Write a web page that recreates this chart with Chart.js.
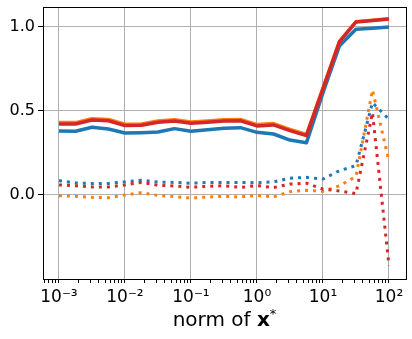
<!DOCTYPE html>
<html>
<head>
<meta charset="utf-8">
<script src="https://cdn.jsdelivr.net/npm/chart.js@4.4.0/dist/chart.umd.min.js"></script>
<style>
  html, body { margin: 0; padding: 0; background: #fff; }
  #wrap { position: relative; width: 412px; height: 339px; }
  #xtitle {
    position: absolute; left: 43px; width: 363px; top: 307px;
    text-align: center; font-family: "DejaVu Sans", sans-serif; font-size: 20px; color: #000;
  }
  #xtitle sup { font-size: 13px; vertical-align: 8px; line-height: 0; }
</style>
</head>
<body>
<div id="wrap">
  <canvas id="chart" width="412" height="339"></canvas>
  <div id="xtitle">norm of <b>x</b><sup>*</sup></div>
</div>
<script>
// x positions (norm of x*)
var xs = [0.001, 0.00178, 0.00316, 0.00562, 0.01, 0.0178, 0.0316, 0.0562, 0.1, 0.178, 0.316, 0.562,
          1, 1.78, 3.16, 5.62, 10, 17.8, 31.6, 56.2, 100];

// solid lines
var blueSolid   = [0.381, 0.379, 0.403, 0.393, 0.369, 0.371, 0.375, 0.395, 0.379, 0.388, 0.397, 0.401,
                   0.373, 0.363, 0.327, 0.311, 0.609, 0.889, 0.986, 0.993, 1.0];
var orangeSolid = [0.431, 0.431, 0.454, 0.450, 0.421, 0.423, 0.441, 0.448, 0.435, 0.441, 0.448, 0.450,
                   0.419, 0.425, 0.391, 0.360, 0.637, 0.915, 1.031, 1.040, 1.049];
var redSolid    = [0.423, 0.423, 0.446, 0.442, 0.413, 0.415, 0.433, 0.440, 0.427, 0.433, 0.440, 0.442,
                   0.411, 0.417, 0.383, 0.353, 0.633, 0.913, 1.030, 1.039, 1.048];

// dotted lines
var blueDotted   = [0.085, 0.072, 0.068, 0.069, 0.078, 0.088, 0.077, 0.075, 0.070, 0.075, 0.075, 0.075,
                    0.073, 0.078, 0.100, 0.105, 0.095, 0.145, 0.175, 0.550, 0.450];
var orangeDotted = [-0.004, -0.008, -0.014, -0.016, 0.000, 0.014, -0.003, -0.010, -0.018, -0.012, -0.008, -0.012,
                    -0.002, -0.012, 0.020, 0.028, 0.022, 0.055, 0.110, 0.625, 0.200];
var redDotted    = [0.060, 0.055, 0.048, 0.048, 0.060, 0.075, 0.058, 0.054, 0.046, 0.052, 0.055, 0.045,
                    0.056, 0.044, 0.065, 0.070, 0.035, 0.024, 0.008, 0.490, -0.420];

var xMajor = [0.001, 0.01, 0.1, 1, 10, 100];
var xLabels = ['10\u207B\u00B3', '10\u207B\u00B2', '10\u207B\u00B9', '10\u2070', '10\u00B9', '10\u00B2'];
var yTicks = [0, 0.5, 1.0];

function pts(ys) {
    return xs.map(function (x, i) { return { x: x, y: ys[i] }; });
}

function line(ys, color, dotted, order) {
    return {
        data: pts(ys),
        borderColor: color,
        borderWidth: dotted ? 3 : 3.5,
        borderDash: dotted ? [3, 5] : [],
        borderCapStyle: 'butt',
        borderJoinStyle: 'round',
        pointRadius: 0,
        fill: false,
        tension: 0,
        order: order
    };
}

var font = { family: 'DejaVu Sans', size: 16 };

var chart = new Chart(document.getElementById('chart'), {
    type: 'line',
    data: {
        datasets: [
            line(blueSolid, '#1f77b4', false, 5),
            line(blueDotted, '#1f77b4', true, 4),
            line(orangeSolid, '#ff7f0e', false, 3),
            line(orangeDotted, '#ff7f0e', true, 2),
            line(redSolid, '#d62728', false, 1),
            line(redDotted, '#d62728', true, 0)
        ]
    },
    options: {
        responsive: false,
        animation: false,
        layout: { padding: { top: 7, right: 6, left: 0, bottom: 0 } },
        plugins: { legend: { display: false }, tooltip: { enabled: false } },
        scales: {
            x: {
                type: 'logarithmic',
                min: 5.73e-4,
                max: 181,
                afterBuildTicks: function (axis) {
                    var t = [];
                    for (var e = -4; e <= 2; e++) {
                        for (var m = 1; m <= 9; m++) {
                            var v = m * Math.pow(10, e);
                            if (v >= axis.min && v <= axis.max) t.push({ value: v });
                        }
                    }
                    axis.ticks = t;
                },
                afterFit: function (axis) {
                    axis.height = 60;
                    axis.paddingLeft = 0;
                    axis.paddingRight = 0;
                },
                ticks: {
                    autoSkip: false,
                    maxRotation: 0,
                    padding: 4,
                    color: '#000',
                    font: { family: 'DejaVu Sans', size: 17 },
                    callback: function (v) {
                        var i = xMajor.findIndex(function (m) { return Math.abs(m - v) / m < 1e-6; });
                        return i >= 0 ? xLabels[i] : '';
                    }
                },
                grid: {
                    color: function (ctx) {
                        var v = ctx.tick && ctx.tick.value;
                        var major = xMajor.some(function (m) { return Math.abs(m - v) / m < 1e-6; });
                        return major ? '#b0b0b0' : 'rgba(0,0,0,0)';
                    },
                    tickColor: '#000',
                    tickLength: 4,
                    lineWidth: 1
                },
                border: { color: '#000', width: 1 }
            },
            y: {
                min: -0.5,
                max: 1.119,
                afterBuildTicks: function (axis) {
                    axis.ticks = yTicks.map(function (v) { return { value: v }; });
                },
                afterFit: function (axis) {
                    axis.width = 43;
                    axis.paddingTop = 0;
                    axis.paddingBottom = 0;
                },
                ticks: {
                    padding: 3,
                    color: '#000',
                    font: font,
                    callback: function (v) { return v.toFixed(1); }
                },
                grid: {
                    color: '#b0b0b0',
                    tickColor: '#000',
                    tickLength: 5,
                    lineWidth: 1
                },
                border: { color: '#000', width: 1 }
            }
        }
    },
    plugins: [{
        id: 'frame',
        afterDraw: function (c) {
            var a = c.chartArea, g = c.ctx;
            g.save();
            g.strokeStyle = '#000';
            g.lineWidth = 1;
            g.strokeRect(a.left + 0.5, a.top + 0.5, a.right - a.left, a.bottom - a.top);
            g.restore();
        }
    }]
});
</script>
</body>
</html>
